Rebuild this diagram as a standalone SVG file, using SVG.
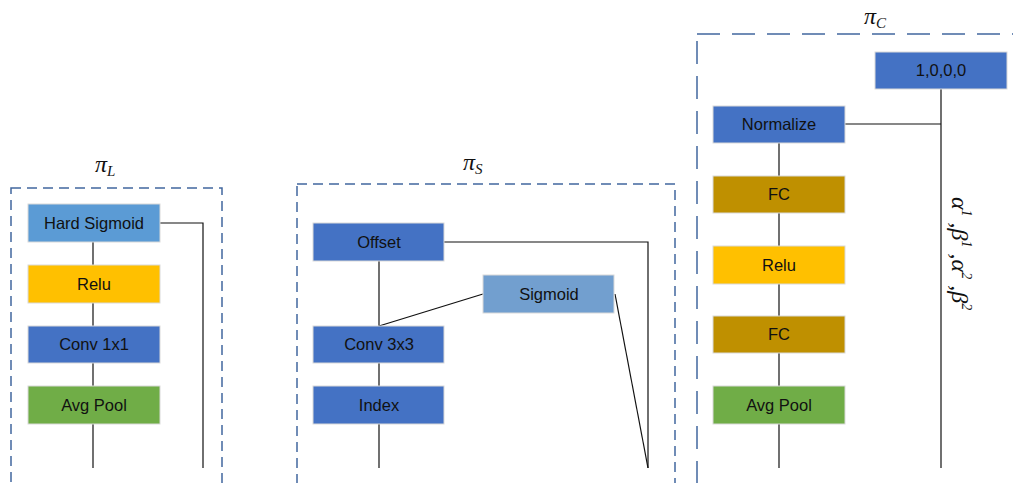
<svg xmlns="http://www.w3.org/2000/svg" width="1013" height="483" viewBox="0 0 1013 483">
<style>
.box{stroke:#d9d9d9;stroke-width:1}
.lbl{font-family:"Liberation Sans",Arial,sans-serif;font-size:16.5px;fill:#111;text-anchor:middle}
.frame{fill:none;stroke:#41679e;stroke-width:1.5;stroke-dasharray:10,6}
.conn line,.conn polyline{stroke:#111;stroke-width:1.2;fill:none}
.math{font-family:"Liberation Serif","Times New Roman",serif;font-style:italic;fill:#111}
</style>
<rect width="1013" height="483" fill="#fff"/>
<g id="frames">
<rect class="frame" x="11" y="188" width="211" height="320"/>
<rect class="frame" x="297" y="184" width="378" height="324"/>
<rect class="frame" x="697" y="34" width="340" height="480" style="stroke-dasharray:23,12"/>
</g>
<g id="titles">
<text class="math" x="95" y="172" font-size="24">π<tspan font-size="15" dy="4">L</tspan></text>
<text class="math" x="463" y="170" font-size="24">π<tspan font-size="15" dy="4">S</tspan></text>
<text class="math" x="864" y="24" font-size="24">π<tspan font-size="15" dy="4">C</tspan></text>
</g>
<g class="conn" id="connectors">
<line x1="93" y1="242" x2="93" y2="265"/>
<line x1="93" y1="303" x2="93" y2="326"/>
<line x1="93" y1="363" x2="93" y2="386"/>
<line x1="93" y1="424" x2="93" y2="468"/>
<polyline points="160,223 203,223 203,468"/>
<line x1="379" y1="261" x2="379" y2="326"/>
<line x1="379" y1="363" x2="379" y2="386"/>
<line x1="379" y1="424" x2="379" y2="468"/>
<line x1="379" y1="326" x2="483" y2="294"/>
<polyline points="444,242 648,242 648,468"/>
<line x1="615" y1="294" x2="648" y2="468"/>
<line x1="779" y1="143" x2="779" y2="176"/>
<line x1="779" y1="213" x2="779" y2="246"/>
<line x1="779" y1="284" x2="779" y2="316"/>
<line x1="779" y1="353" x2="779" y2="386"/>
<line x1="779" y1="424" x2="779" y2="468"/>
<line x1="941" y1="89" x2="941" y2="468"/>
<line x1="845" y1="124" x2="941" y2="124"/>
</g>
<g id="n-hardsigmoid"><rect class="box" x="28" y="204" width="132" height="38" fill="#5b9bd5"/><text class="lbl" x="94" y="229">Hard Sigmoid</text></g>
<g id="n-relu-l"><rect class="box" x="28" y="265" width="132" height="38" fill="#ffc000"/><text class="lbl" x="94" y="290">Relu</text></g>
<g id="n-conv1"><rect class="box" x="28" y="326" width="132" height="37" fill="#4472c4"/><text class="lbl" x="94" y="350">Conv 1x1</text></g>
<g id="n-avgpool-l"><rect class="box" x="28" y="386" width="132" height="38" fill="#70ad47"/><text class="lbl" x="94" y="411">Avg Pool</text></g>
<g id="n-offset"><rect class="box" x="313" y="223" width="131" height="38" fill="#4472c4"/><text class="lbl" x="379" y="248">Offset</text></g>
<g id="n-sigmoid"><rect class="box" x="483" y="275" width="131" height="38" fill="#729fcf"/><text class="lbl" x="549" y="300">Sigmoid</text></g>
<g id="n-conv3"><rect class="box" x="313" y="326" width="131" height="37" fill="#4472c4"/><text class="lbl" x="379" y="350">Conv 3x3</text></g>
<g id="n-index"><rect class="box" x="313" y="386" width="131" height="38" fill="#4472c4"/><text class="lbl" x="379" y="411">Index</text></g>
<g id="n-init"><rect class="box" x="875" y="52" width="132" height="37" fill="#4472c4"/><text class="lbl" x="941" y="76">1,0,0,0</text></g>
<g id="n-normalize"><rect class="box" x="713" y="106" width="132" height="37" fill="#4472c4"/><text class="lbl" x="779" y="130">Normalize</text></g>
<g id="n-fc1"><rect class="box" x="713" y="176" width="132" height="37" fill="#bf9000"/><text class="lbl" x="779" y="200">FC</text></g>
<g id="n-relu-c"><rect class="box" x="713" y="246" width="132" height="38" fill="#ffc000"/><text class="lbl" x="779" y="271">Relu</text></g>
<g id="n-fc2"><rect class="box" x="713" y="316" width="132" height="37" fill="#bf9000"/><text class="lbl" x="779" y="340">FC</text></g>
<g id="n-avgpool-c"><rect class="box" x="713" y="386" width="132" height="38" fill="#70ad47"/><text class="lbl" x="779" y="411">Avg Pool</text></g>
<g id="params">
<text class="math" font-size="24" transform="translate(952,197) rotate(90)">α<tspan font-size="14" dy="-10">1</tspan><tspan dy="10"> ,β</tspan><tspan font-size="14" dy="-10">1</tspan><tspan dy="10"> ,α</tspan><tspan font-size="14" dy="-10">2</tspan><tspan dy="10"> ,β</tspan><tspan font-size="14" dy="-10">2</tspan></text>
</g>
</svg>
